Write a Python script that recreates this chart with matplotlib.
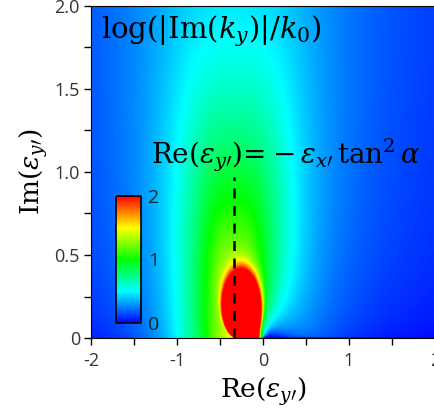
import numpy as np
import matplotlib.pyplot as plt
from matplotlib.colors import LinearSegmentedColormap

plt.rcParams['mathtext.fontset'] = 'dejavuserif'

# material / geometry
eps_x = 1.0
alpha = np.deg2rad(30)

# complex eps_y' plane
re_eps = np.linspace(-2, 2, 801)
im_eps = np.linspace(0, 2, 401)

# colour scale of log(|Im(ky)|/k0)
v_min, v_max = 0, 2
cbar_ticks = [0, 1, 2]
xticks = [-2, -1, 0, 1, 2]
xticklabels = ['-2', '-1', '0', '1', '2']
yticks = [0, 0.5, 1.0, 1.5, 2.0]
yticklabels = ['0', '0.5', '1.0', '1.5', '2.0']

X, Y = np.meshgrid(re_eps, im_eps)
eps_y = X + 1j * Y
eps_yy = eps_x * np.sin(alpha)**2 + eps_y * np.cos(alpha)**2
x0 = -eps_x * np.tan(alpha)**2

# resonant part around eps_yy -> 0
s = np.abs(np.imag(np.sqrt(eps_x * eps_y / eps_yy)))
core = 100 * np.exp(np.minimum(38 * (s - 0.45), 40))

# broad evanescent background
dx = X - x0
D2 = (np.abs(dx)**3 + (Y / 2.4)**3)**(2 / 3)
plume = 0.86 / (D2 + 0.098)**1.5
floor = 0.8 * Y / (Y + 0.5) / (1 + (dx / 2)**2)
theta = np.angle(eps_y)
cut = np.sin(theta / 2)**(2 * np.exp(-np.abs(eps_y) / 0.2))

im_ky = 1 + core + (plume + floor) * cut
val = np.log10(im_ky)

cmap = LinearSegmentedColormap.from_list(
    'rainbow5', [(0, '#0000ff'), (0.25, '#00ffff'), (0.5, '#00ff00'),
                 (0.75, '#ffff00'), (1, '#ff0000')])

fig = plt.figure(figsize=(4.34, 4.11), dpi=100)
ax = fig.add_axes([91 / 434, 73 / 411, 344 / 434, 332 / 411])
im = ax.imshow(val, extent=[-2, 2, 0, 2], origin='lower', aspect='auto',
               cmap=cmap, vmin=v_min, vmax=v_max, interpolation='bilinear')

ax.plot([x0, x0], [0, 0.97], color='k', lw=1.8, dashes=(4, 3))

ax.set_xlim(-2, 2)
ax.set_ylim(0, 2)
ax.set_xticks(xticks)
ax.set_xticklabels(xticklabels)
ax.set_yticks(yticks)
ax.set_yticklabels(yticklabels)
ax.set_xticks(np.arange(-1.5, 2, 1), minor=True)
ax.set_yticks(np.arange(0.25, 2, 0.5), minor=True)
ax.tick_params(which='both', direction='out', length=5, width=1)
ax.tick_params(labelsize=13, labelcolor='#333333')
ax.tick_params(axis='x', pad=5)
ax.tick_params(axis='y', pad=3)
for lab in ax.get_xticklabels() + ax.get_yticklabels():
    lab.set_family('Open Sans')

ax.set_xlabel(r'$\mathrm{Re}(\varepsilon_{y\prime})$', fontsize=19, labelpad=4)
ax.set_ylabel(r'$\mathrm{Im}(\varepsilon_{y\prime})$', fontsize=19, labelpad=3)

ax.text(-1.88, 1.85, r'$\log(|\mathrm{Im}(k_y)|/k_0)$', fontsize=21,
        ha='left', va='center')
ax.text(0.27, 1.1, r'$\mathrm{Re}(\varepsilon_{y\prime})\!=\!-\varepsilon_{x\prime}\,\tan^2\alpha$',
        fontsize=20, ha='center', va='center')

cax = fig.add_axes([116 / 434, 88 / 411, 25 / 434, 127 / 411])
cb = fig.colorbar(im, cax=cax, ticks=cbar_ticks)
cb.outline.set_edgecolor('k')
cb.outline.set_linewidth(1.2)
cb.ax.tick_params(length=0, labelsize=14, labelcolor='#222222', pad=5)
for lab in cb.ax.get_yticklabels():
    lab.set_family('Open Sans')

fig.savefig('out.png', dpi=100)
